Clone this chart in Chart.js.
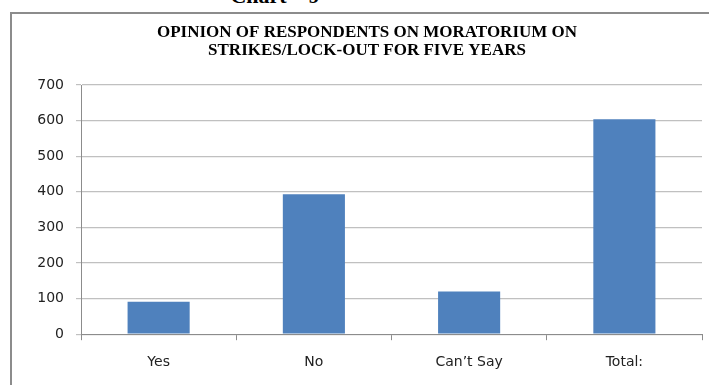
<!DOCTYPE html>
<html>
  <head>
    <meta charset="UTF-8">
    <script src="https://cdn.jsdelivr.net/npm/chart.js@4.4.1/dist/chart.umd.min.js"></script>
    <title>Chart - 9</title>
    <style>
      html, body { margin: 0; padding: 0; overflow: hidden; background: #fff; }
      #caption {
        position: absolute; left: 0; top: -17px; width: 550px; text-align: center;
        font: bold 22px "Liberation Serif", serif; color: #000;
      }
      #frame {
        position: absolute; left: 10px; top: 12px; width: 760px; height: 420px;
        border: 2px solid #8c8c8c;
      }
      #wrap { position: absolute; left: 0; top: 0; width: 709px; height: 385px; }
    </style>
  </head>
  <body>
    <div id="caption">Chart – 9</div>
    <div id="frame"></div>
    <div id="wrap"><canvas id="myChart"></canvas></div>
    <script type="text/javascript">
      var categories = ['Yes', 'No', 'Can\u2019t Say', 'Total:'];
      var respondents = [91, 393, 120, 604];
      var yTicks = [0, 100, 200, 300, 400, 500, 600, 700];
      var titleLines = ['OPINION OF RESPONDENTS ON MORATORIUM ON', 'STRIKES/LOCK-OUT FOR FIVE YEARS'];

      var tickFont = { family: '"DejaVu Sans", sans-serif', size: 14 };

      var ctx = document.getElementById('myChart').getContext('2d');
      var myChart = new Chart(ctx, {
        type: 'bar',
        data: {
          labels: categories,
          datasets: [{
            label: 'Respondents',
            data: respondents,
            backgroundColor: '#4f81bd',
            borderWidth: 0,
            barPercentage: 0.4,
            categoryPercentage: 1.0
          }]
        },
        options: {
          responsive: true,
          maintainAspectRatio: false,
          animation: false,
          layout: { padding: { left: 32, right: 7, top: 0, bottom: 0 } },
          plugins: {
            legend: { display: false },
            tooltip: { enabled: false },
            title: {
              display: true,
              text: titleLines,
              color: '#000',
              font: { family: '"Liberation Serif", serif', size: 17, weight: 'bold', lineHeight: 1.06 },
              padding: { top: 24, bottom: 25 }
            }
          },
          scales: {
            x: {
              grid: { display: true, drawOnChartArea: false, color: '#8c8c8c', tickLength: 6, offset: true },
              border: { color: '#8c8c8c' },
              ticks: { color: '#222', padding: 14, font: tickFont }
            },
            y: {
              min: 0,
              max: 700,
              afterFit: function (scale) { scale.width = 49; },
              afterBuildTicks: function (scale) { scale.ticks = yTicks.map(function (v) { return { value: v }; }); },
              grid: { color: '#c0c0c0', tickLength: 5, lineWidth: 1.2 },
              border: { color: '#8c8c8c' },
              ticks: { color: '#222', padding: 12, font: tickFont }
            }
          }
        }
      });
    </script>
  </body>
</html>
